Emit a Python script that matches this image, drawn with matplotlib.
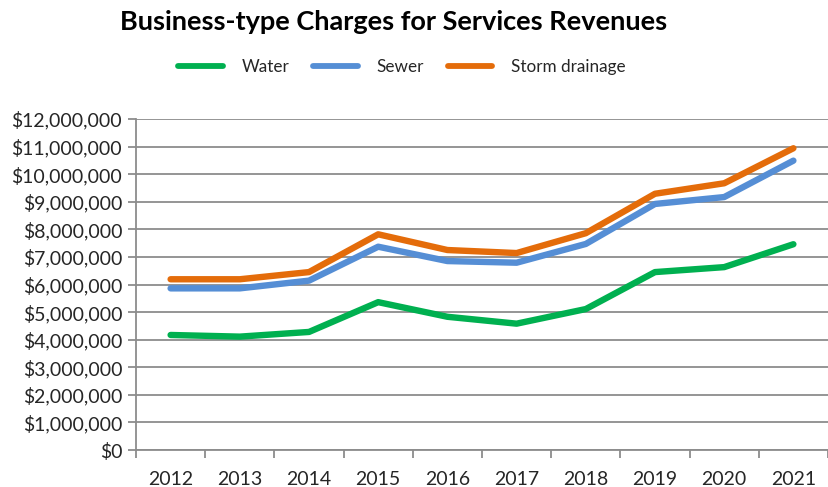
import matplotlib
matplotlib.use("Agg")
import matplotlib.pyplot as plt
from matplotlib.ticker import FuncFormatter, FixedLocator

plt.rcParams['font.family'] = ['Lato', 'DejaVu Sans']

years = ["2012", "2013", "2014", "2015", "2016", "2017", "2018", "2019", "2020", "2021"]
water = [4.17e6, 4.11e6, 4.28e6, 5.36e6, 4.83e6, 4.58e6, 5.11e6, 6.45e6, 6.63e6, 7.46e6]
sewer = [5.86e6, 5.86e6, 6.14e6, 7.37e6, 6.85e6, 6.79e6, 7.47e6, 8.92e6, 9.17e6, 10.49e6]
storm = [6.19e6, 6.19e6, 6.45e6, 7.82e6, 7.25e6, 7.14e6, 7.86e6, 9.29e6, 9.67e6, 10.94e6]
series_names = ["Water", "Sewer", "Storm drainage"]
colors = ["#00B050", "#558ED5", "#E46C0A"]

fig = plt.figure(figsize=(8.29, 4.87), dpi=100)
ax = fig.add_axes([136/829, 37/487, 692/829, 331/487])

x = list(range(len(years)))
lines = []
for vals, name, c in zip([water, sewer, storm], series_names, colors):
    ln, = ax.plot(x, vals, color=c, lw=4.6, solid_capstyle='round',
                  solid_joinstyle='round', label=name, zorder=3)
    lines.append(ln)

ax.set_xlim(-0.5, len(years) - 0.5)
ax.set_ylim(0, 12e6)
ax.yaxis.set_major_locator(FixedLocator([i * 1e6 for i in range(13)]))
ax.yaxis.set_major_formatter(FuncFormatter(lambda v, p: f"${v:,.0f}"))
ax.set_xticks(x)
ax.set_xticklabels(years)
ax.set_xticks([i - 0.5 for i in range(len(years) + 1)], minor=True)

ax.grid(axis='y', color='#8C8C8C', lw=1.3, zorder=0)
ax.set_axisbelow(True)
for s in ['top', 'right']:
    ax.spines[s].set_visible(False)
for s in ['left', 'bottom']:
    ax.spines[s].set_color('#8C8C8C')
    ax.spines[s].set_linewidth(1.3)

ax.tick_params(axis='y', length=6, width=1.3, color='#8C8C8C', labelsize=14,
               labelcolor='#262626', pad=4)
ax.tick_params(axis='x', which='major', length=0, labelsize=14,
               labelcolor='#262626', pad=15)
ax.tick_params(axis='x', which='minor', length=6, width=1.3, color='#8C8C8C')

fig.text(394/829, 1 - 22/487, "Business-type Charges for Services Revenues",
         ha='center', va='center', fontsize=19.5, fontweight='bold', color='black')

leg = fig.legend(handles=lines, loc='center', bbox_to_anchor=(402/829, 1 - 67/487),
                 ncol=3, frameon=False, fontsize=12.3, handlelength=2.6,
                 columnspacing=1.4, handletextpad=1.1, labelcolor='#262626')
for h in leg.legend_handles:
    h.set_linewidth(4.2)

fig.savefig("out.png", dpi=100, facecolor='white')
